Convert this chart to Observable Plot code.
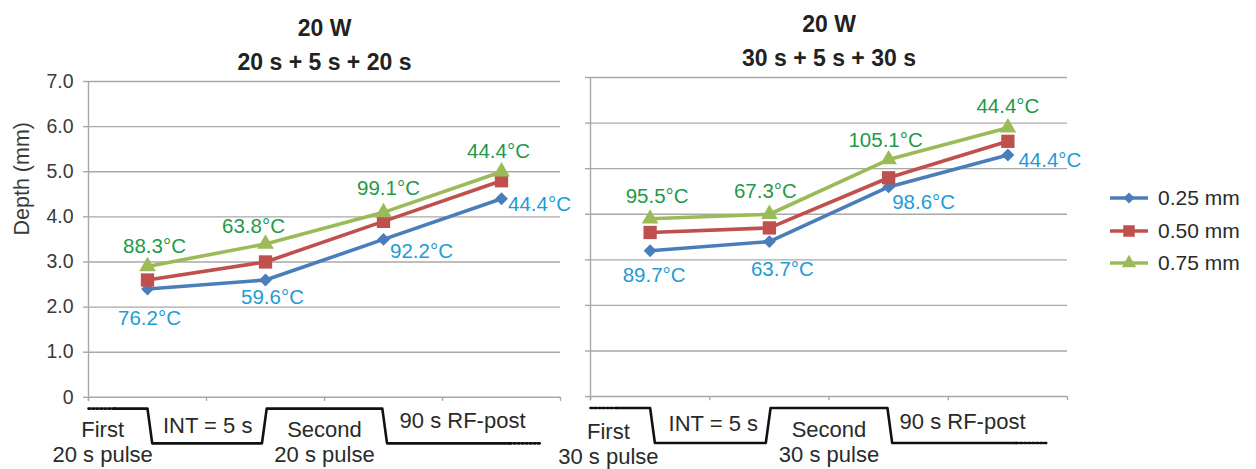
<!DOCTYPE html>
<html><head><meta charset="utf-8">
<script src="https://cdn.jsdelivr.net/npm/d3@7"></script>
<script src="https://cdn.jsdelivr.net/npm/@observablehq/plot@0.6"></script>
<style>
body{margin:0;background:#fff;font-family:"Liberation Sans",Arial,sans-serif;}
#root{position:relative;width:1256px;height:469px;overflow:hidden;background:#fff}
#root > *{position:absolute;top:0}
</style></head><body><div id="root"></div>
<script>
// ---- data ----
const stages = ["First pulse", "Interval", "Second pulse", "RF-post"];
const seriesNames = ["0.25 mm", "0.50 mm", "0.75 mm"];
const yTicks = [0, 1, 2, 3, 4, 5, 6, 7];

const leftTitle = ["20 W", "20 s + 5 s + 20 s"];
const left025 = [2.4, 2.6, 3.5, 4.4];
const left050 = [2.6, 3.0, 3.9, 4.8];
const left075 = [2.9, 3.4, 4.1, 5.0];
const leftTemp025 = ["76.2°C", "59.6°C", "92.2°C", "44.4°C"];
const leftTemp075 = ["88.3°C", "63.8°C", "99.1°C", "44.4°C"];
const leftPulseText = ["First\n20 s pulse", "INT = 5 s", "Second\n20 s pulse", "90 s RF-post"];

const rightTitle = ["20 W", "30 s + 5 s + 30 s"];
const right025 = [3.2, 3.4, 4.6, 5.3];
const right050 = [3.6, 3.7, 4.8, 5.6];
const right075 = [3.9, 4.0, 5.2, 5.9];
const rightTemp025 = ["89.7°C", "63.7°C", "98.6°C", "44.4°C"];
const rightTemp075 = ["95.5°C", "67.3°C", "105.1°C", "44.4°C"];
const rightPulseText = ["First\n30 s pulse", "INT = 5 s", "Second\n30 s pulse", "90 s RF-post"];

// pulse schematic (time axis in stage units, level: on / off)
const pulseTimes  = [0.22, 0.50, 0.54, 1.47, 1.51, 2.49, 2.53, 3.57];
const pulseLevels = ["on", "on", "off", "off", "on", "on", "off", "off"];
const pulseLeadIn = [0.0, 0.22];
const pulseTail   = [3.57, 3.83];

// ---- style ----
const colors = ["#4a7ebb", "#c0504d", "#9bbb59"];
const symbols = ["diamond2", "square", "triangle"];
const radii = [5.8, 7.5, 6.2];
const labelBlue = "#1f9bd7", labelGreen = "#24994a";
const gridColor = "#a8a8a8";
const FONT = "Liberation Sans, Arial, sans-serif";
const levelY = {on: -0.25, off: -1.02};

function panel(opts) {
  const {values, title, temp025, temp075, pulseText, width, marginLeft, marginRight, marginTop,
         showLabels, blueOff, greenOff, pulseTextPos} = opts;
  const rows = [];
  values.forEach((vals, k) => vals.forEach((v, i) => rows.push({x: i + 0.5, depth: v, k})));
  const marks = [];
  // grid
  marks.push(Plot.ruleY(yTicks.filter(d => d > 0), {stroke: gridColor, strokeWidth: 1.4}));
  marks.push(Plot.ruleY([0], {stroke: gridColor, strokeWidth: 1.4}));
  marks.push(Plot.ruleX([0], {y1: -0.09, y2: 7, stroke: gridColor, strokeWidth: 1.4}));
  marks.push(Plot.ruleX([0, 1, 2, 3, 4], {y1: 0, y2: -0.09, stroke: gridColor, strokeWidth: 1.4}));
  marks.push(Plot.axisY({ticks: yTicks, tickSize: 5, tickPadding: 10, stroke: gridColor, strokeWidth: 1.4,
    fill: "#3a3a3a", fontSize: 19.5, label: null,
    tickFormat: showLabels ? (d => d === 0 ? "0" : d.toFixed(1)) : (() => "")}));
  if (showLabels) {
    marks.push(Plot.text(["Depth (mm)"], {frameAnchor: "left", rotate: -90, dx: -66, dy: -40,
      fontSize: 21.5, fill: "#3a3a3a"}));
  }
  // titles
  marks.push(Plot.text([title[0]], {frameAnchor: "top", dy: -62, fontSize: 23, fontWeight: "bold", fill: "#222"}));
  marks.push(Plot.text([title[1]], {frameAnchor: "top", dy: -28, fontSize: 23, fontWeight: "bold", fill: "#222"}));
  // lines + markers
  values.forEach((vals, k) => {
    const d = rows.filter(r => r.k === k);
    marks.push(Plot.line(d, {x: "x", y: "depth", stroke: colors[k], strokeWidth: 3.6}));
  });
  values.forEach((vals, k) => {
    const d = rows.filter(r => r.k === k);
    marks.push(Plot.dot(d, {x: "x", y: "depth", symbol: () => symbols[k], r: radii[k], fill: colors[k], stroke: "none"}));
  });
  // temperature labels
  temp075.forEach((t, i) => marks.push(Plot.text([t], {x: i + 0.5, y: values[2][i], text: d => d,
    dx: greenOff[i][0], dy: greenOff[i][1], fontSize: 20.5, fill: labelGreen})));
  temp025.forEach((t, i) => marks.push(Plot.text([t], {x: i + 0.5, y: values[0][i], text: d => d,
    dx: blueOff[i][0], dy: blueOff[i][1], fontSize: 20.5, fill: labelBlue})));
  // pulse schematic
  const pulse = pulseTimes.map((t, i) => ({t, y: levelY[pulseLevels[i]]}));
  marks.push(Plot.line(pulse, {x: "t", y: "y", stroke: "#111", strokeWidth: 2.6}));
  marks.push(Plot.line(pulseLeadIn, {x: d => d, y: () => levelY.on, stroke: "#111", strokeWidth: 2.6, strokeDasharray: "2,2"}));
  marks.push(Plot.line(pulseTail, {x: d => d, y: () => levelY.off, stroke: "#111", strokeWidth: 2.6, strokeDasharray: "2,2"}));
  pulseText.forEach((s, i) => marks.push(Plot.text([s], {x: pulseTextPos[i][0], y: pulseTextPos[i][1], text: d => d,
    fontSize: 22, fill: "#2a2a2a", lineHeight: 1.14})));
  return Plot.plot({
    width, height: 469, marginLeft, marginRight, marginTop, marginBottom: 0,
    x: {domain: [0, 4], axis: null},
    y: {domain: [-1.6, 7]},
    style: {fontFamily: FONT, fontSize: "19px", background: "transparent", overflow: "visible"},
    marks
  });
}

const root = document.getElementById("root");
const leftChart = panel({
  values: [left025, left050, left075], title: leftTitle, temp025: leftTemp025, temp075: leftTemp075,
  pulseText: leftPulseText, width: 580, marginLeft: 88, marginRight: 20, marginTop: 81, showLabels: true,
  greenOff: [[7, -20], [-12, -17], [5, -24], [-3, -20]],
  blueOff: [[2, 29], [7, 17], [38, 12], [38, 6]],
  pulseTextPos: [[0.12, -0.98], [1.01, -0.62], [2.0, -0.97], [3.17, -0.51]]
});
leftChart.style.left = "0px";
root.appendChild(leftChart);

const rightChart = panel({
  values: [right025, right050, right075], title: rightTitle, temp025: rightTemp025, temp075: rightTemp075,
  pulseText: rightPulseText, width: 676, marginLeft: 10, marginRight: 189, marginTop: 77, showLabels: false,
  greenOff: [[7, -22], [-4, -23], [-3, -19], [0, -21]],
  blueOff: [[4, 25], [13, 28], [35, 16], [42, 5]],
  pulseTextPos: [[0.15, -1.02], [1.03, -0.59], [2.0, -0.98], [3.12, -0.53]]
});
rightChart.style.left = "580px";
root.appendChild(rightChart);

// legend
const leg = d3.create("svg").attr("width", 156).attr("height", 100)
  .style("left", "1100px").style("top", "180px").style("font-family", FONT);
const rowY = [18, 51, 83];
seriesNames.forEach((n, k) => {
  const g = leg.append("g").attr("transform", `translate(0,${rowY[k]})`);
  g.append("line").attr("x1", 10).attr("x2", 48).attr("stroke", colors[k]).attr("stroke-width", 3.6);
  const sym = {diamond2: d3.symbolDiamond2, square: d3.symbolSquare, triangle: d3.symbolTriangle}[symbols[k]];
  g.append("path").attr("transform", "translate(29,0)").attr("d", d3.symbol(sym, Math.PI * radii[k] * radii[k] * 0.75)()).attr("fill", colors[k]);
  g.append("text").attr("x", 58).attr("dy", "0.35em").attr("font-size", 21).attr("fill", "#2a2a2a").text(n);
});
root.appendChild(leg.node());
</script></body></html>
